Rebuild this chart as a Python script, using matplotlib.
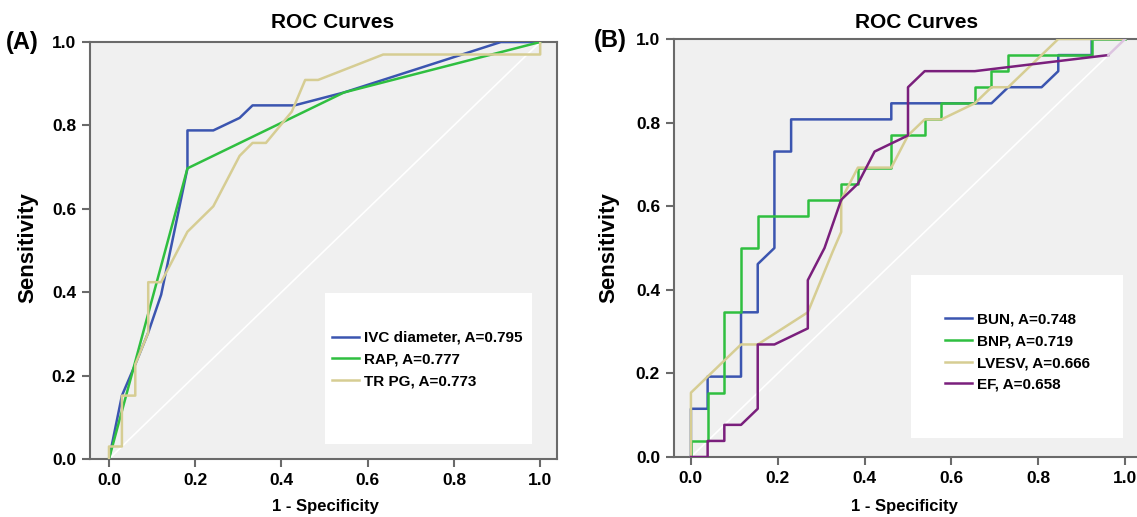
import matplotlib
matplotlib.use('Agg')
import matplotlib.pyplot as plt
from matplotlib.patches import Rectangle

plt.rcParams['font.family'] = ['Liberation Sans', 'DejaVu Sans']
plt.rcParams['font.weight'] = 'bold'

# ---------------- panel A data ----------------
ivc_x = [0.0, 0.030, 0.061, 0.091, 0.121, 0.182, 0.182, 0.242, 0.303, 0.333, 0.430, 0.545, 0.909, 1.0]
ivc_y = [0.0, 0.152, 0.227, 0.303, 0.394, 0.697, 0.788, 0.788, 0.818, 0.848, 0.848, 0.879, 1.0, 1.0]

rap_x = [0.0, 0.182, 0.545, 1.0]
rap_y = [0.0, 0.697, 0.879, 1.0]

trpg_x = [0.0, 0.0, 0.030, 0.030, 0.061, 0.061, 0.091, 0.091, 0.121, 0.182, 0.242, 0.303,
          0.333, 0.364, 0.424, 0.455, 0.485, 0.636, 1.0, 1.0]
trpg_y = [0.0, 0.030, 0.030, 0.152, 0.152, 0.227, 0.303, 0.424, 0.424, 0.545, 0.606, 0.727,
          0.758, 0.758, 0.833, 0.909, 0.909, 0.970, 0.970, 1.0]

labels_a = ['IVC diameter, A=0.795', 'RAP, A=0.777', 'TR PG, A=0.773']

# ---------------- panel B data (steps of 1/26) ----------------
bun_x = [0, 0, 1, 1, 3, 3, 4, 4, 5, 5, 6, 6, 12, 12, 18, 19, 21, 22, 22, 24, 24, 26]
bun_y = [0, 3, 3, 5, 5, 9, 9, 12, 13, 19, 19, 21, 21, 22, 22, 23, 23, 24, 25, 25, 26, 26]

bnp_x = [0, 0, 1, 1, 2, 2, 3, 3, 4, 4, 7, 7, 9, 9, 10, 10, 12, 12, 14, 14, 15, 15,
         17, 17, 18, 18, 19, 19, 24, 24, 26]
bnp_y = [0, 1, 1, 4, 4, 9, 9, 13, 13, 15, 15, 16, 16, 17, 17, 18, 18, 20, 20, 21, 21, 22,
         22, 23, 23, 24, 24, 25, 25, 26, 26]

lvesv_x = [0, 0, 3, 4, 7, 8.5, 9, 9, 10, 12, 13, 14, 15, 17, 18, 19, 22, 26]
lvesv_y = [0, 4, 7, 7, 9, 12.8, 14, 16, 18, 18, 20, 21, 21, 22, 23, 23, 26, 26]

ef_x = [0, 1, 1, 2, 2, 3, 4, 4, 5, 7, 7, 8, 9, 10, 11, 13, 13, 14, 17, 25, 26]
ef_y = [0, 0, 1, 1, 2, 2, 3, 7, 7, 8, 11, 13, 16, 17, 19, 20, 23, 24, 24, 25, 26]

n_b = 26.0
labels_b = ['BUN, A=0.748', 'BNP, A=0.719', 'LVESV, A=0.666', 'EF, A=0.658']

c_blue = '#3b55b0'
c_green = '#2fbf40'
c_tan = '#d6cd93'
c_purple = '#7a1f7c'
bg = '#f0f0f0'
frame = '#6a6a6a'

W, H = 1137, 517
fig = plt.figure(figsize=(W / 100, H / 100), dpi=100)


def px_axes(l, r, t, b):
    return fig.add_axes([l / W, 1 - b / H, (r - l) / W, (b - t) / H])


def style(ax, xlim):
    ax.set_facecolor(bg)
    ax.set_xlim(*xlim)
    ax.set_ylim(0, 1)
    ax.plot([0, 1], [0, 1], color='white', lw=1.2, zorder=1)
    for s in ['left', 'bottom', 'top', 'right']:
        ax.spines[s].set_color(frame)
        ax.spines[s].set_linewidth(1.5)
    ax.set_xticks([0, 0.2, 0.4, 0.6, 0.8, 1.0])
    ax.set_yticks([0, 0.2, 0.4, 0.6, 0.8, 1.0])
    ax.xaxis.set_major_formatter(plt.FormatStrFormatter('%.1f'))
    ax.yaxis.set_major_formatter(plt.FormatStrFormatter('%.1f'))
    ax.tick_params(direction='out', length=6, width=1.5, color=frame,
                   labelsize=12.5, top=False, right=False, pad=4)
    for lab in ax.get_xticklabels() + ax.get_yticklabels():
        lab.set_fontweight('bold')


lw = 1.8
leg_kw = dict(loc='upper left', frameon=False, borderpad=0, borderaxespad=0,
              handlelength=1.8, handletextpad=0.3, labelspacing=0.5,
              prop={'size': 11, 'weight': 'bold'})

# ---------------- panel A ----------------
axA = px_axes(90, 557, 42, 459)
style(axA, (-0.044, 1.039))
axA.add_patch(Rectangle((0.503, 0.036), 0.443, 0.362, transform=axA.transAxes,
                        facecolor='white', edgecolor='none', zorder=1.5))
axA.plot(ivc_x, ivc_y, color=c_blue, lw=lw, label=labels_a[0], zorder=3)
axA.plot(rap_x, rap_y, color=c_green, lw=lw, label=labels_a[1], zorder=3)
axA.plot(trpg_x, trpg_y, color=c_tan, lw=lw, label=labels_a[2], zorder=3)
axA.legend(bbox_to_anchor=(0.518, 0.307), **leg_kw)

# ---------------- panel B ----------------
axB = px_axes(674, 1142, 39, 457)
style(axB, (-0.039, 1.039))
axB.add_patch(Rectangle((0.506, 0.045), 0.453, 0.39, transform=axB.transAxes,
                        facecolor='white', edgecolor='none', zorder=1.5))
axB.plot([v / n_b for v in bun_x], [v / n_b for v in bun_y], color=c_blue, lw=lw,
         label=labels_b[0], zorder=3)
axB.plot([v / n_b for v in bnp_x], [v / n_b for v in bnp_y], color=c_green, lw=lw,
         label=labels_b[1], zorder=3)
axB.plot([v / n_b for v in lvesv_x], [v / n_b for v in lvesv_y], color=c_tan, lw=lw,
         label=labels_b[2], zorder=3)
axB.plot([v / n_b for v in ef_x[:-1]], [v / n_b for v in ef_y[:-1]], color=c_purple, lw=lw,
         label=labels_b[3], zorder=3)
# last EF segment is drawn faint in the original
axB.plot([v / n_b for v in ef_x[-2:]], [v / n_b for v in ef_y[-2:]], color='#dcc4e0', lw=lw,
         zorder=3)
axB.legend(bbox_to_anchor=(0.579, 0.345), **leg_kw)

# ---------------- titles and labels ----------------
for cx in (333, 917):
    fig.text(cx / W, 1 - 23 / H, 'ROC Curves', ha='center', va='center',
             fontsize=15, fontweight='bold')
for cx in (325, 904):
    fig.text(cx / W, 1 - 507 / H, '1 - Specificity', ha='center', va='center',
             fontsize=12, fontweight='bold')
for cx, cy in ((28, 248), (609, 248)):
    fig.text(cx / W, 1 - cy / H, 'Sensitivity', ha='center', va='center',
             rotation=90, fontsize=16, fontweight='bold')
fig.text(6 / W, 1 - 42 / H, '(A)', ha='left', va='center', fontsize=17, fontweight='bold')
fig.text(594 / W, 1 - 41 / H, '(B)', ha='left', va='center', fontsize=17, fontweight='bold')

fig.savefig('out.png', dpi=100, facecolor='white')
